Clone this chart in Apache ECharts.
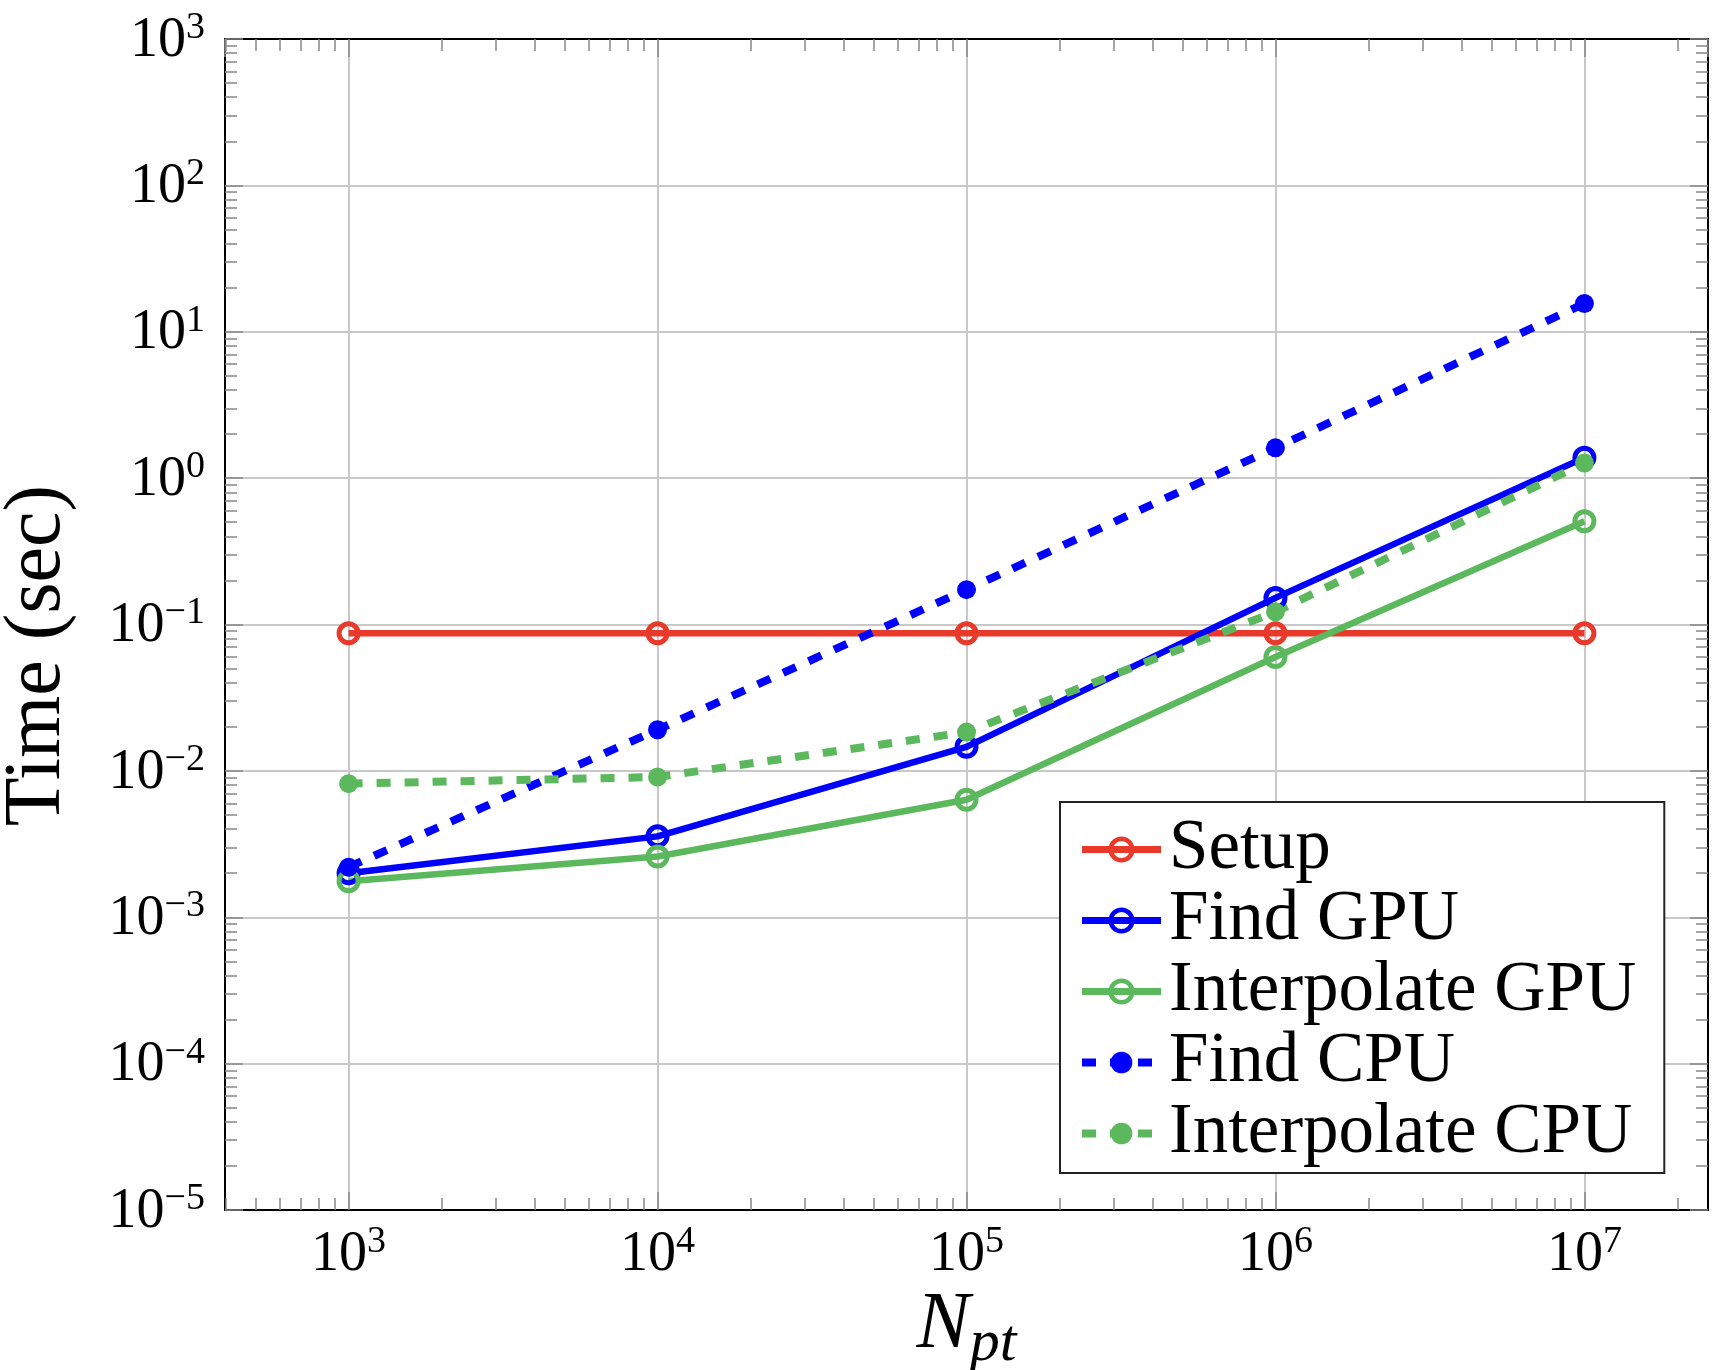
<!DOCTYPE html>
<html><head><meta charset="utf-8">
<script src="https://cdn.jsdelivr.net/npm/echarts@6/dist/echarts.min.js"></script>
<style>html,body{margin:0;padding:0;background:#fff}#c{width:1720px;height:1370px}</style>
</head><body><div id="c"></div>
<script>
// ---- data ----
const xValues = [1e3, 1e4, 1e5, 1e6, 1e7];
const setupTimes = [0.087, 0.087, 0.087, 0.087, 0.087];
const findGPU = [0.0020, 0.00357, 0.0146, 0.152, 1.38];
const interpGPU = [0.00176, 0.0026, 0.00635, 0.060, 0.508];
const findCPU = [0.0022, 0.0191, 0.173, 1.61, 15.6];
const interpCPU = [0.00818, 0.00908, 0.0184, 0.122, 1.27];
const seriesNames = ['Setup', 'Find GPU', 'Interpolate GPU', 'Find CPU', 'Interpolate CPU'];
const minorMultipliers = [2, 3, 4, 5, 6, 7, 8, 9];

// ---- style ----
const FONT = 'Liberation Serif';
const RED = '#e8392b', BLUE = '#0000ff', GREEN = '#5cb85c';
const xMin = Math.pow(10, 2.6), xMax = Math.pow(10, 7.4);
const yMin = 1e-5, yMax = 1e3;

function minorTicks(lo, hi) {
  const out = [];
  for (let e = Math.floor(Math.log10(lo)) - 1; e <= Math.ceil(Math.log10(hi)); e++) {
    for (const m of minorMultipliers) {
      const v = m * Math.pow(10, e);
      if (v > lo * 1.0001 && v < hi / 1.0001) out.push(v);
    }
  }
  return out;
}
function powLabel(v) {
  const e = Math.log10(v), r = Math.round(e);
  if (Math.abs(e - r) > 1e-6) return '';
  const s = r < 0 ? '\u2212' + (-r) : '' + r;
  return '{b|10}{s|' + s + '}';
}
const labelRich = {
  b: { fontFamily: FONT, fontSize: 56, lineHeight: 60, verticalAlign: 'bottom', color: '#000' },
  s: { fontFamily: FONT, fontSize: 38, lineHeight: 34, verticalAlign: 'top', color: '#000' }
};
const tickColor = '#888';
const axisLineStyle = { color: '#000', width: 2 };

function majorAxis(pos, isX, withLabel) {
  return {
    type: 'log', position: pos,
    min: isX ? xMin : yMin, max: isX ? xMax : yMax,
    splitNumber: isX ? 5 : 8,
    nameMoveOverlap: false,
    axisLine: { show: true, onZero: false, lineStyle: axisLineStyle },
    axisTick: { show: true, inside: true, length: 18, lineStyle: { color: tickColor, width: 1.5 } },
    minorTick: { show: false },
    splitLine: { show: withLabel, lineStyle: { color: '#c8c8c8', width: 2 } },
    axisLabel: withLabel ? {
      show: true, formatter: powLabel, rich: labelRich,
      margin: isX ? 13 : 20, showMinLabel: !isX, showMaxLabel: !isX,
      hideOverlap: false
    } : { show: false }
  };
}
function minorAxis(pos, isX) {
  return {
    type: 'log', position: pos,
    min: isX ? xMin : yMin, max: isX ? xMax : yMax,
    splitNumber: isX ? 5 : 8,
    axisLine: { show: false, onZero: false },
    axisTick: { show: true, inside: true, length: 12, lineStyle: { color: tickColor, width: 1.5 },
      customValues: isX ? minorTicks(xMin, xMax) : minorTicks(yMin, yMax) },
    minorTick: { show: false },
    splitLine: { show: false },
    axisLabel: { show: false }
  };
}

const xAxes = [majorAxis('bottom', true, true), minorAxis('bottom', true), majorAxis('top', true, false), minorAxis('top', true)];
const yAxes = [majorAxis('left', false, true), minorAxis('left', false), majorAxis('right', false, false), minorAxis('right', false)];

xAxes[0].name = '{n|N}{p|pt}';
xAxes[0].nameLocation = 'middle';
xAxes[0].nameGap = 76;
xAxes[0].nameTextStyle = {
  rich: {
    n: { fontFamily: FONT, fontStyle: 'italic', fontSize: 80, lineHeight: 84, verticalAlign: 'top', color: '#000' },
    p: { fontFamily: FONT, fontStyle: 'italic', fontSize: 60, lineHeight: 88, verticalAlign: 'bottom', color: '#000' }
  }
};
yAxes[0].name = 'Time (sec)';
yAxes[0].nameLocation = 'middle';
yAxes[0].nameRotate = 90;
yAxes[0].nameGap = 147;
yAxes[0].nameTextStyle = { fontFamily: FONT, fontSize: 80, lineHeight: 80, color: '#000', padding: [0, 62, 0, 0] };

function makePts(vals) { return xValues.map((x, i) => [x, vals[i]]); }
function openSeries(name, vals, color) {
  return {
    name, type: 'line', data: makePts(vals), xAxisIndex: 0, yAxisIndex: 0,
    symbol: 'circle', symbolSize: 19,
    itemStyle: { color: 'transparent', borderColor: color, borderWidth: 5 },
    lineStyle: { color: color, width: 6.5 },
    emphasis: { disabled: true }, silent: true
  };
}
function dashSeries(name, vals, color) {
  return {
    name, type: 'line', data: makePts(vals), xAxisIndex: 0, yAxisIndex: 0,
    symbol: 'circle', symbolSize: 19,
    itemStyle: { color: color },
    lineStyle: { color: color, width: 8, type: [14, 14] },
    emphasis: { disabled: true }, silent: true
  };
}

const chart = echarts.init(document.getElementById('c'), null, { renderer: 'canvas' });
chart.setOption({
  animation: false,
  backgroundColor: '#fff',
  grid: { left: 225, right: 12, top: 39, bottom: 160, containLabel: false, outerBoundsMode: 'none' },
  xAxis: xAxes,
  yAxis: yAxes,
  legend: {
    orient: 'vertical', left: 1060, top: 802,
    padding: [12, 28, 4, 18], itemGap: 0, itemWidth: 79, itemHeight: 27,
    backgroundColor: '#fff', borderColor: '#222', borderWidth: 2, borderRadius: 0,
    selectedMode: false,
    textStyle: { fontFamily: FONT, fontSize: 71, color: '#000', padding: [0, 0, 0, 3] },
    itemStyle: { borderWidth: 4.5 },
    lineStyle: { width: 7 },
    data: [
      { name: seriesNames[0] },
      { name: seriesNames[1] },
      { name: seriesNames[2] },
      { name: seriesNames[3], lineStyle: { width: 8 } },
      { name: seriesNames[4], lineStyle: { width: 8 } }
    ]
  },
  series: [
    openSeries(seriesNames[0], setupTimes, RED),
    openSeries(seriesNames[1], findGPU, BLUE),
    openSeries(seriesNames[2], interpGPU, GREEN),
    dashSeries(seriesNames[3], findCPU, BLUE),
    dashSeries(seriesNames[4], interpCPU, GREEN)
  ]
});
</script></body></html>
